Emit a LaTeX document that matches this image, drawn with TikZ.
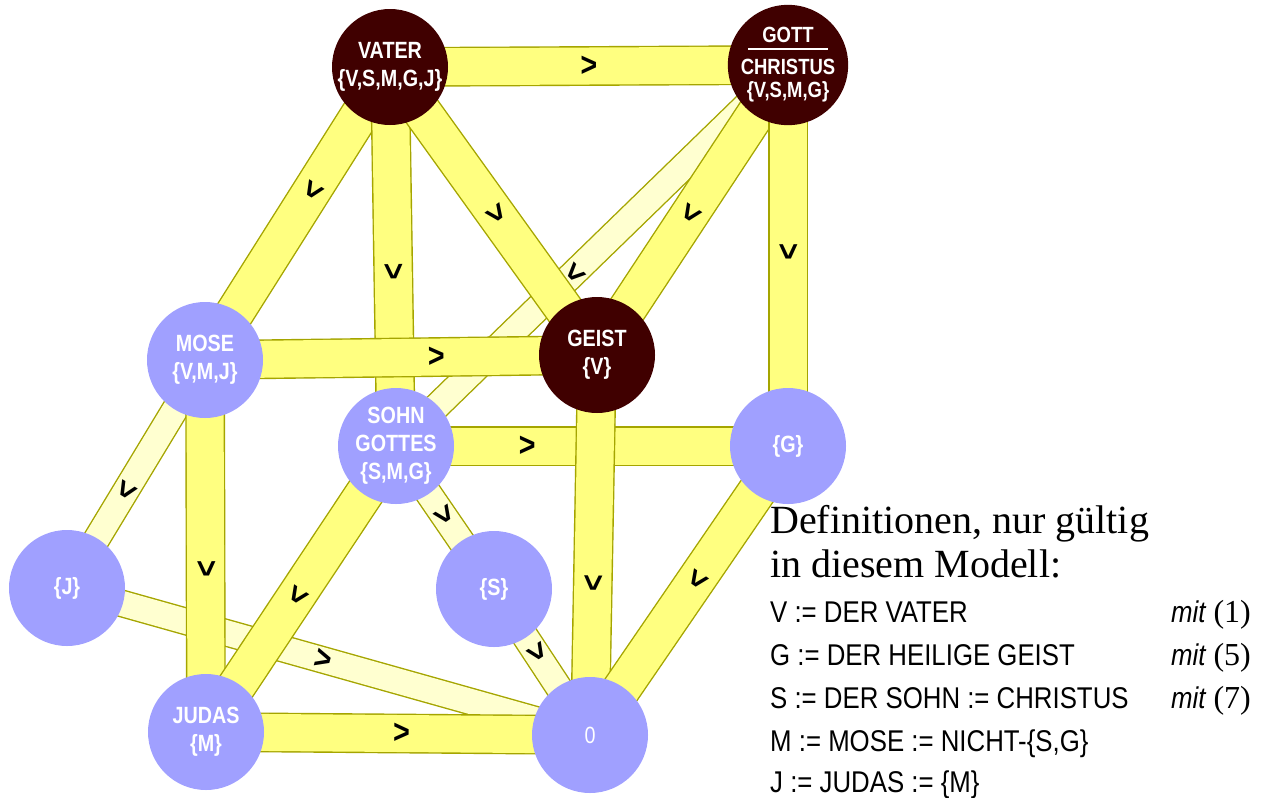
\documentclass[tikz,border=0pt]{standalone}
\usepackage{fontspec}
\setmainfont{Liberation Serif}
\newfontfamily\knotfont[FakeStretch=0.84]{Liberation Sans}
\newfontfamily\deffont[FakeStretch=0.86]{Liberation Sans}
\usetikzlibrary{backgrounds}
\definecolor{oliv}{RGB}{165,165,0}
\definecolor{gelb}{RGB}{255,255,128}
\definecolor{hellgelb}{RGB}{255,255,208}
\definecolor{braun}{RGB}{64,0,0}
\definecolor{lila}{RGB}{160,160,255}

\begin{document}
\begin{tikzpicture}[x=1pt,y=-1pt]
\tikzstyle{knoten}=[circle,minimum size=116pt,inner sep=0pt,text=white,align=center,font=\knotfont\bfseries\fontsize{23.5}{28}\selectfont]
\tikzstyle{dunkel}=[knoten,fill=braun]
\tikzstyle{hell}=[knoten,fill=lila]
\tikzstyle{band}=[draw=oliv,line width=1.4pt,double=gelb,double distance=37pt]
\tikzstyle{blass}=[draw=oliv,line width=1.4pt,double=hellgelb,double distance=25pt]
\tikzstyle{pfeil}=[sloped,allow upside down,text=black,inner sep=0pt,font=\knotfont\bfseries\fontsize{34}{34}\selectfont]
\tikzstyle{defn}=[anchor=base west,inner sep=0pt,font=\deffont\fontsize{30}{36}\selectfont]
\tikzstyle{mit}=[anchor=base east,inner sep=0pt,font=\fontsize{32}{36}\selectfont]
\useasboundingbox (0,0) rectangle (1264,798);

% the lattice
\path (390,67) node[dunkel](vater){VATER\\\{V,S,M,G,J\}};
\path (788,65) node[dunkel,font=\knotfont\bfseries\fontsize{22}{27}\selectfont](gott){GOTT\\[-20pt]\rule{80pt}{1.5pt}\\[-2pt]CHRISTUS\\[-4pt]\{V,S,M,G\}};
\path (205,360) node[hell](mose){MOSE\\\{V,M,J\}} (597,355) node[dunkel](geist){GEIST\\\{V\}};
\path (396,446) node[hell](sohn){SOHN\\GOTTES\\\{S,M,G\}} (788,446) node[hell](g){\{G\}};
\path (67,588) node[hell](j){\{J\}} (494,589) node[hell](s){\{S\}};
\path (206,732) node[hell](judas){JUDAS\\\{M\}} (590,735) node[hell,font=\knotfont\fontsize{23.5}{28}\selectfont](null){0};

\begin{scope}[on background layer]
\draw[blass] (gott.center) -- node[pfeil,pos=.545]{>} (sohn.center);
\draw[blass] (mose.center) -- node[pfeil,pos=.57]{>} (j.center);
\draw[blass] (j.center) -- node[pfeil,pos=.49]{>} (null.center);
\draw[blass] (sohn.center) -- node[pfeil,pos=.49]{>} (s.center);
\draw[blass] (s.center) -- node[pfeil,pos=.44]{>} (null.center);

\draw[band] (vater.center) -- node[pfeil]{>} (gott.center);
\draw[band] (vater.center) -- node[pfeil,pos=.42]{>} (mose.center);
\draw[band] (vater.center) -- node[pfeil,pos=.54]{>} (sohn.center);
\draw[band] (mose.center) -- node[pfeil,pos=.59]{>} (geist.center);
\draw[band] (vater.center) -- node[pfeil,pos=.51]{>} (geist.center);
\draw[band] (gott.center) -- node[pfeil,pos=.51]{>} (geist.center);
\draw[band] (gott.center) -- node[pfeil,pos=.49]{>} (g.center);
\draw[band] (sohn.center) -- node[pfeil,pos=.335]{>} (g.center);
\draw[band] (geist.center) -- node[pfeil,pos=.6]{>} (null.center);
\draw[band] (mose.center) -- node[pfeil,pos=.56]{>} (judas.center);
\draw[band] (sohn.center) -- node[pfeil,pos=.52]{>} (judas.center);
\draw[band] (g.center) -- node[pfeil,pos=.46]{>} (null.center);
\draw[band] (judas.center) -- node[pfeil,pos=.51]{>} (null.center);
\end{scope}

% definitions
\path (770,533) node[anchor=base west,inner sep=0pt,font=\fontsize{40}{45}\selectfont](def1){Definitionen, nur gültig};
\path (770,577) node[anchor=base west,inner sep=0pt,font=\fontsize{40}{45}\selectfont](def2){in diesem Modell:};
\path (770,622) node[defn](dv){V := DER VATER};
\path (770,665) node[defn](dg){G := DER HEILIGE GEIST};
\path (770,708) node[defn](ds){S := DER SOHN := CHRISTUS};
\path (770,751) node[defn](dm){M := MOSE := NICHT-\{S,G\}};
\path (770,792) node[defn](dj){J := JUDAS := \{M\}};
\path (1251,622) node[mit](mv){{\deffont\itshape\fontsize{30}{36}\selectfont mit} (1)};
\path (1251,665) node[mit](mg){{\deffont\itshape\fontsize{30}{36}\selectfont mit} (5)};
\path (1251,708) node[mit](ms){{\deffont\itshape\fontsize{30}{36}\selectfont mit} (7)};
\end{tikzpicture}
\end{document}
